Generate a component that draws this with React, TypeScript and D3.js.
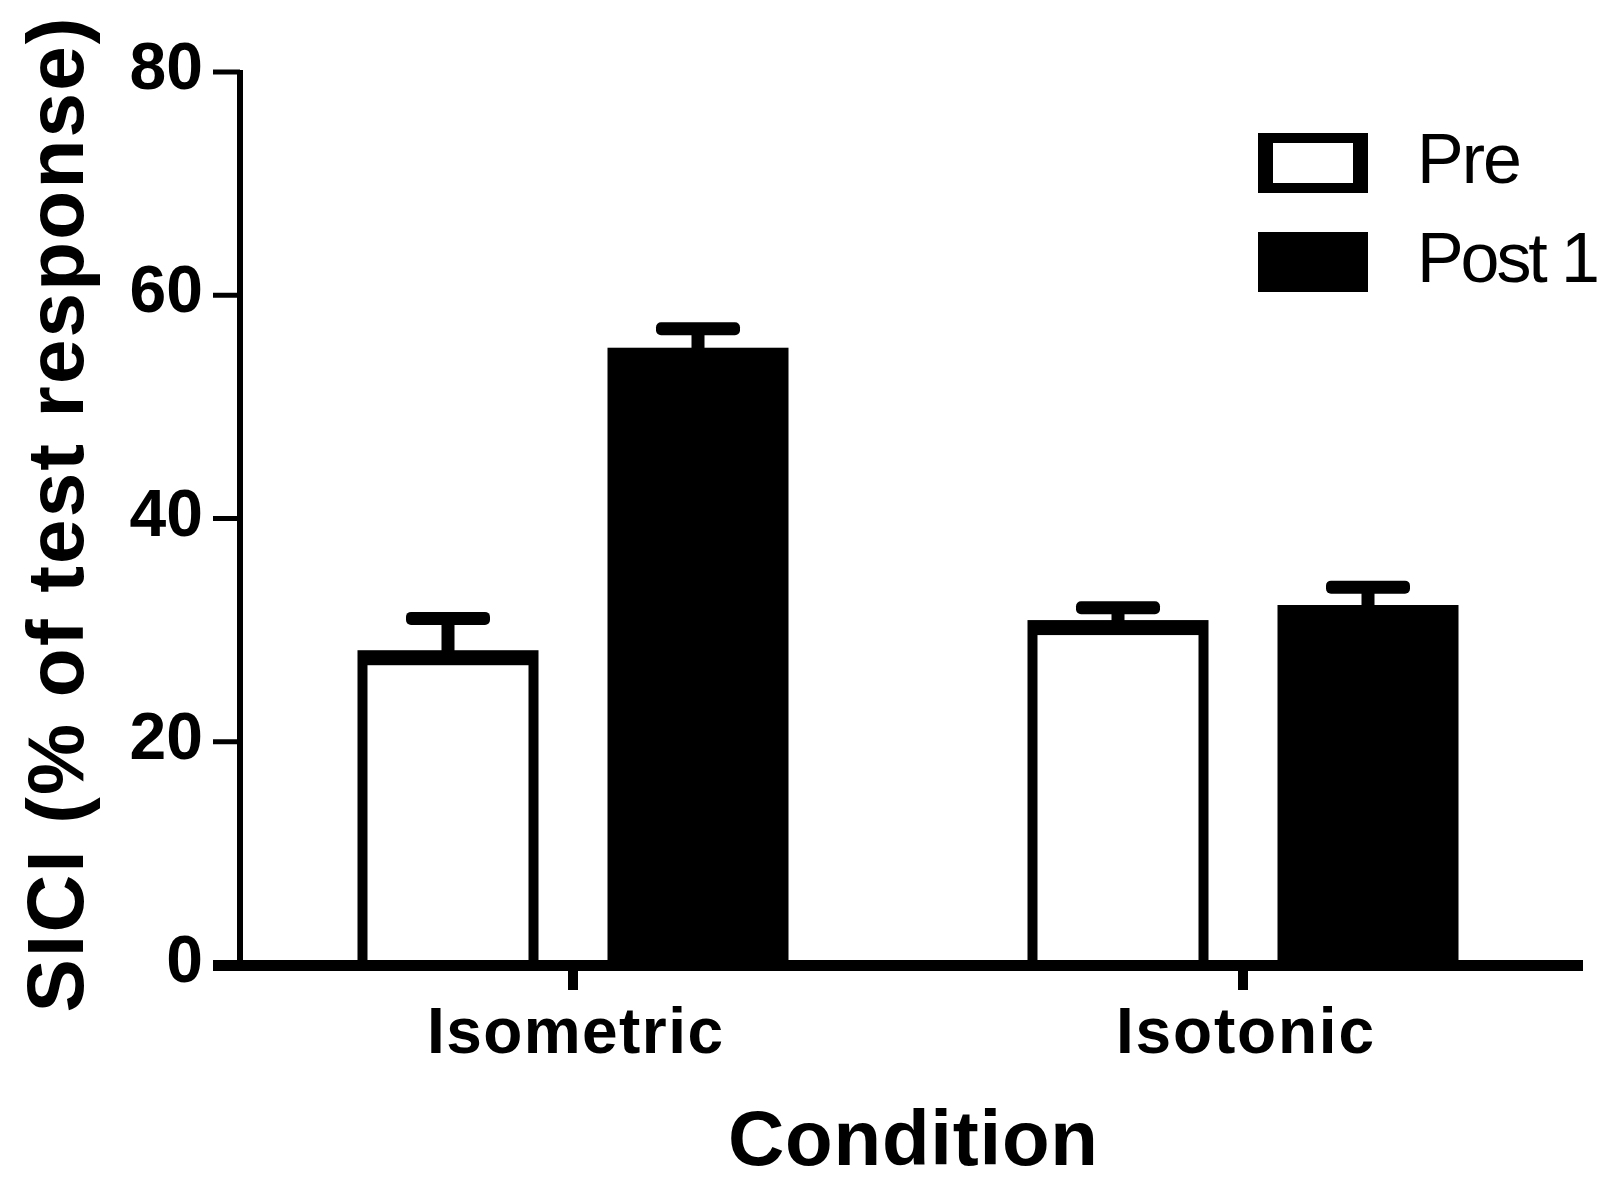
import React, { useRef, useEffect } from 'react';
import * as d3 from 'd3';

// chart data
const conditions = ['Isometric', 'Isotonic'];
const series = ['Pre', 'Post 1'];
const preMeans = [28.2, 30.9];
const preSem = [2.85, 1.1];
const post1Means = [55.3, 32.25];
const post1Sem = [1.7, 1.6];
const yTicks = [0, 20, 40, 60, 80];

const FONT = '"Liberation Sans", Arial, Helvetica, sans-serif';

const App = () => {
  const chartRef = useRef<HTMLDivElement>(null);

  useEffect(() => {
    document.body.style.margin = '0';

    const width = 1612;
    const height = 1182;

    const data = conditions.flatMap((c, i) => [
      { cond: c, ser: series[0], mean: preMeans[i], sem: preSem[i] },
      { cond: c, ser: series[1], mean: post1Means[i], sem: post1Sem[i] },
    ]);

    d3.select(chartRef.current).select('svg').remove();

    const svg = d3.select(chartRef.current)
      .append('svg')
      .attr('width', width)
      .attr('height', height)
      .style('display', 'block')
      .style('background', '#fff');

    // scales
    const y = d3.scaleLinear().domain([0, 80]).range([965, 72]);

    const x0 = d3.scaleBand()
      .domain(conditions)
      .range([238, 1578]);

    const x1 = d3.scaleBand()
      .domain(series)
      .range([0, x0.bandwidth()])
      .paddingInner(0.276)
      .paddingOuter(0.478);

    const bw = x1.bandwidth();

    // bars
    const bars = svg.append('g');
    data.forEach(d => {
      const bx = x0(d.cond)! + x1(d.ser)!;
      const top = y(d.mean);
      bars.append('rect')
        .attr('x', bx)
        .attr('y', top)
        .attr('width', bw)
        .attr('height', y(0) - top)
        .attr('fill', '#000');
      if (d.ser === 'Pre') {
        bars.append('rect')
          .attr('x', bx + 10)
          .attr('y', top + 15)
          .attr('width', bw - 20)
          .attr('height', y(0) - top - 15)
          .attr('fill', '#fff');
      }
      // error bar (mean + SEM)
      const cx = bx + bw / 2;
      const capY = y(d.mean + d.sem);
      bars.append('rect')
        .attr('x', cx - 6.5)
        .attr('y', capY)
        .attr('width', 13)
        .attr('height', top - capY + 2)
        .attr('fill', '#000');
      bars.append('rect')
        .attr('x', cx - 42)
        .attr('y', capY - 6.5)
        .attr('width', 84)
        .attr('height', 13)
        .attr('rx', 5)
        .attr('fill', '#000');
    });

    // y axis
    svg.append('line')
      .attr('x1', 240).attr('x2', 240)
      .attr('y1', y(80) - 2).attr('y2', y(0))
      .attr('stroke', '#000')
      .attr('stroke-width', 6);

    yTicks.forEach(t => {
      svg.append('line')
        .attr('x1', 213).attr('x2', 240)
        .attr('y1', y(t)).attr('y2', y(t))
        .attr('stroke', '#000')
        .attr('stroke-width', 5);
      svg.append('text')
        .attr('x', 203)
        .attr('y', y(t) + 17)
        .attr('text-anchor', 'end')
        .attr('font-family', FONT)
        .attr('font-weight', 'bold')
        .attr('font-size', 66)
        .text(t);
    });

    // x axis
    svg.append('line')
      .attr('x1', 213).attr('x2', 1583)
      .attr('y1', y(0) + 0.5).attr('y2', y(0) + 0.5)
      .attr('stroke', '#000')
      .attr('stroke-width', 11);

    const xLabelLen = [296, 258];
    conditions.forEach((c, i) => {
      const cx = x0(c)! + x0.bandwidth() / 2;
      svg.append('line')
        .attr('x1', cx).attr('x2', cx)
        .attr('y1', y(0)).attr('y2', 990)
        .attr('stroke', '#000')
        .attr('stroke-width', 10);
      svg.append('text')
        .attr('x', cx + 2)
        .attr('y', 1053)
        .attr('text-anchor', 'middle')
        .attr('font-family', FONT)
        .attr('font-weight', 'bold')
        .attr('font-size', 64)
        .attr('textLength', xLabelLen[i])
        .text(c);
    });

    // axis titles
    svg.append('text')
      .attr('x', 913)
      .attr('y', 1165)
      .attr('text-anchor', 'middle')
      .attr('font-family', FONT)
      .attr('font-weight', 'bold')
      .attr('font-size', 78)
      .attr('textLength', 370)
      .text('Condition');

    svg.append('text')
      .attr('transform', 'translate(83,515) rotate(-90)')
      .attr('text-anchor', 'middle')
      .attr('font-family', FONT)
      .attr('font-weight', 'bold')
      .attr('font-size', 80)
      .attr('textLength', 995)
      .text('SICI (% of test response)');

    // legend
    const legend = svg.append('g');
    const legendLen = [105, 183];
    series.forEach((s, i) => {
      const top = 133 + i * 99;
      legend.append('rect')
        .attr('x', 1258).attr('y', top)
        .attr('width', 110).attr('height', 60)
        .attr('fill', '#000');
      if (s === 'Pre') {
        legend.append('rect')
          .attr('x', 1273).attr('y', top + 10)
          .attr('width', 80).attr('height', 40)
          .attr('fill', '#fff');
      }
      legend.append('text')
        .attr('x', 1417)
        .attr('y', top + 50)
        .attr('font-family', FONT)
        .attr('font-size', 70)
        .attr('textLength', legendLen[i])
        .text(s);
    });
  }, []);

  return <div ref={chartRef}></div>;
};

export default App;
